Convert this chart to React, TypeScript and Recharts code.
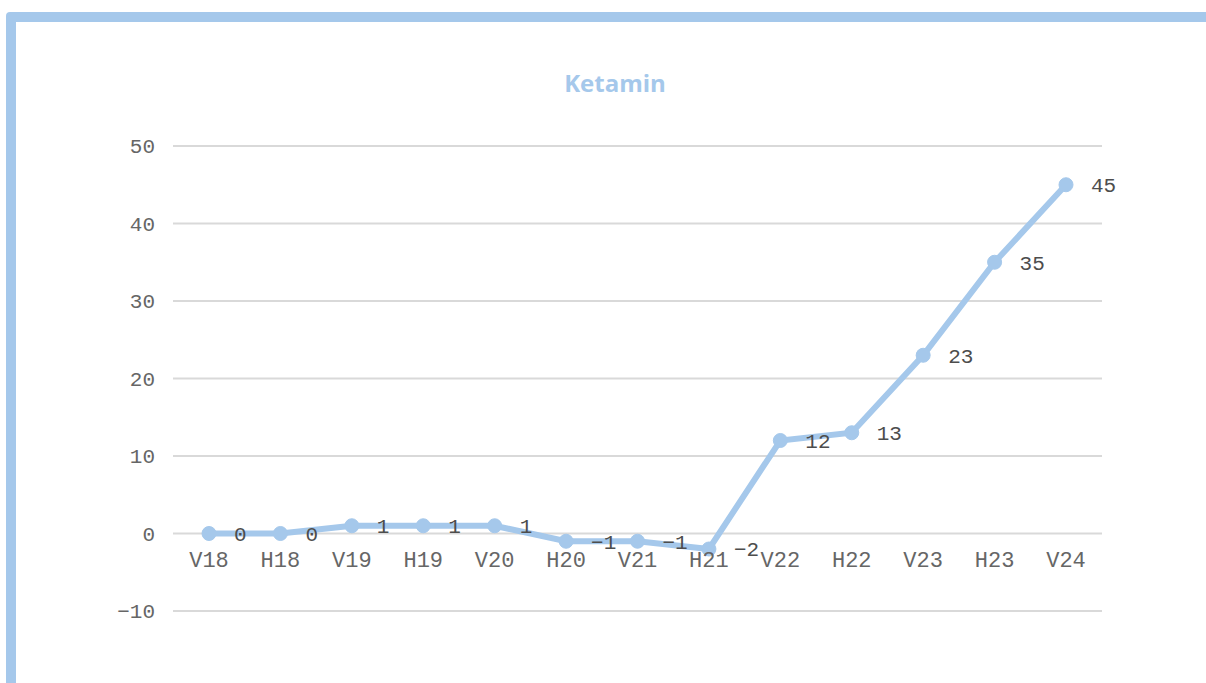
import React from "react";
import {
  LineChart,
  Line,
  XAxis,
  YAxis,
  CartesianGrid,
  LabelList,
} from "recharts";

const periods = ["V18", "H18", "V19", "H19", "V20", "H20", "V21", "H21", "V22", "H22", "V23", "H23", "V24"];
const ketamin = [0, 0, 1, 1, 1, -1, -1, -2, 12, 13, 23, 35, 45];
const yTicks = [-10, 0, 10, 20, 30, 40, 50];

const chartData = periods.map((p, i) => ({ period: p, value: ketamin[i] }));

const lineColor = "#A5C8EB";
const mono = "'Liberation Mono', 'Courier New', monospace";
const fmt = (v: number | string) => String(v).replace("-", "\u2212");

function CategoryTick(props: any) {
  const { x, y, payload } = props;
  // Excel draws the category labels under the zero line
  return (
    <text
      x={x}
      y={y - 52}
      textAnchor="middle"
      fill="#666666"
      fontSize={22}
      fontFamily={mono}
    >
      {payload.value}
    </text>
  );
}

export default function App() {
  return (
    <div
      style={{
        position: "absolute",
        left: 0,
        top: 0,
        width: 1206,
        height: 683,
        overflow: "hidden",
        background: "#fff",
      }}
    >
      <div
        style={{
          position: "absolute",
          left: 6,
          top: 12,
          width: 1300,
          height: 800,
          borderLeft: `10px solid ${lineColor}`,
          borderTop: `10px solid ${lineColor}`,
          borderRadius: 4,
        }}
      />
      <div
        style={{
          position: "absolute",
          left: 515,
          top: 66,
          width: 200,
          textAlign: "center",
          fontFamily: "'Open Sans', sans-serif",
          fontWeight: 700,
          fontSize: 24,
          color: lineColor,
        }}
      >
        Ketamin
      </div>
      <div style={{ position: "absolute", left: 0, top: 0 }}>
        <LineChart
          width={1206}
          height={683}
          data={chartData}
          margin={{ top: 146, right: 104, bottom: 42, left: 0 }}
        >
          <CartesianGrid vertical={false} stroke="#D9D9D9" strokeWidth={2} />
          <XAxis
            dataKey="period"
            height={30}
            axisLine={false}
            tickLine={false}
            padding={{ left: 36, right: 36 }}
            tick={<CategoryTick />}
            interval={0}
          />
          <YAxis
            width={173}
            domain={[-10, 50]}
            ticks={yTicks}
            axisLine={false}
            tickLine={false}
            tickSize={0}
            tickMargin={18}
            tickFormatter={fmt}
            tick={{ fill: "#666666", fontSize: 21, fontFamily: mono }}
          />
          <Line
            type="linear"
            dataKey="value"
            stroke={lineColor}
            strokeWidth={6}
            dot={{ r: 7, fill: lineColor, stroke: lineColor, strokeWidth: 1 }}
            isAnimationActive={false}
          >
            <LabelList
              dataKey="value"
              position="right"
              offset={25}
              formatter={fmt}
              fill="#4D4D4D"
              fontSize={21}
              fontFamily={mono}
            />
          </Line>
        </LineChart>
      </div>
    </div>
  );
}
